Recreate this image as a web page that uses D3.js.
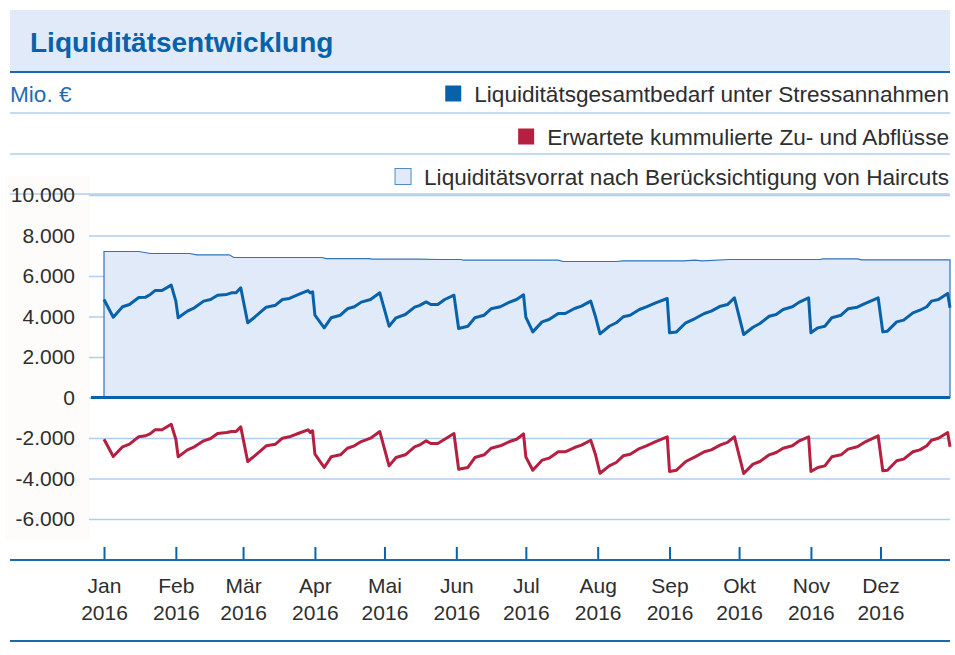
<!DOCTYPE html>
<html>
<head>
<meta charset="utf-8">
<script src="https://cdn.jsdelivr.net/npm/d3@7"></script>
<style>
  body { margin: 0; background: #fff; }
  svg { display: block; font-family: "Liberation Sans", Arial, sans-serif; }
</style>
</head>
<body>
<svg id="chart" width="955" height="655"></svg>
<script>
const title = "Liquiditätsentwicklung"
const unitLabel = "Mio. €"
const monthLabels = ["Jan", "Feb", "Mär", "Apr", "Mai", "Jun", "Jul", "Aug", "Sep", "Okt", "Nov", "Dez"]
const yearLabel = "2016"
const yTicks = [10000, 8000, 6000, 4000, 2000, 0, -2000, -4000, -6000]

const legendLabels = [
  "Liquiditätsgesamtbedarf unter Stressannahmen",
  "Erwartete kummulierte Zu- und Abflüsse",
  "Liquiditätsvorrat nach Berücksichtigung von Haircuts"
]

const lineDates = [
  "2016-01-01","2016-01-05","2016-01-09","2016-01-12","2016-01-16","2016-01-19","2016-01-21","2016-01-23","2016-01-26","2016-01-30",
  "2016-02-01","2016-02-02","2016-02-06","2016-02-09","2016-02-13","2016-02-16","2016-02-19","2016-02-23","2016-02-25","2016-02-27","2016-02-29",
  "2016-03-03","2016-03-06","2016-03-11","2016-03-15","2016-03-18","2016-03-21","2016-03-25","2016-03-29","2016-03-30","2016-03-31",
  "2016-04-01","2016-04-05","2016-04-08","2016-04-12","2016-04-15","2016-04-18","2016-04-21","2016-04-25","2016-04-29",
  "2016-05-03","2016-05-06","2016-05-10","2016-05-14","2016-05-16","2016-05-19","2016-05-21","2016-05-24","2016-05-27","2016-05-31",
  "2016-06-02","2016-06-06","2016-06-09","2016-06-13","2016-06-16","2016-06-20","2016-06-24","2016-06-27","2016-06-30",
  "2016-07-01","2016-07-04","2016-07-08","2016-07-11","2016-07-15","2016-07-18","2016-07-22","2016-07-25","2016-07-29","2016-07-31",
  "2016-08-02","2016-08-06","2016-08-09","2016-08-12","2016-08-15","2016-08-19","2016-08-22","2016-08-26","2016-08-31",
  "2016-09-01","2016-09-04","2016-09-08","2016-09-12","2016-09-16","2016-09-19","2016-09-23","2016-09-26","2016-09-29",
  "2016-10-03","2016-10-07","2016-10-10","2016-10-14","2016-10-17","2016-10-20","2016-10-24","2016-10-27","2016-10-31",
  "2016-11-01","2016-11-04","2016-11-07","2016-11-10","2016-11-14","2016-11-17","2016-11-21","2016-11-24","2016-11-30",
  "2016-12-02","2016-12-04","2016-12-08","2016-12-11","2016-12-15","2016-12-18","2016-12-21","2016-12-23","2016-12-26","2016-12-30","2016-12-31"
]

// Liquiditätsgesamtbedarf unter Stressannahmen
const demandValues = [
  4840,3965,4480,4590,4940,4955,5090,5280,5280,5550,
  4760,3935,4265,4430,4760,4840,5050,5090,5170,5170,5420,
  3690,3965,4460,4560,4840,4890,5090,5280,5170,5220,
  4065,3440,3935,4065,4380,4480,4710,4840,5170,
  3520,3935,4100,4460,4540,4720,4590,4590,4840,5050,
  3410,3520,3935,4065,4380,4480,4710,4840,5070,
  3965,3240,3735,3850,4150,4150,4395,4510,4760,4015,
  3145,3520,3690,3985,4065,4345,4480,4675,4890,
  3195,3240,3690,3900,4150,4265,4510,4590,4925,
  3110,3470,3655,4015,4100,4345,4480,4710,4925,
  3195,3440,3520,3935,4065,4380,4460,4625,4925,
  3240,3275,3735,3820,4180,4310,4480,4760,4840,5140,4430
]

// Erwartete kummulierte Zu- und Abflüsse
const flowValues = [
  -2060,-2915,-2435,-2305,-1940,-1890,-1780,-1595,-1595,-1320,
  -2060,-2930,-2585,-2435,-2140,-2025,-1780,-1730,-1680,-1680,-1450,
  -3160,-2880,-2385,-2305,-2010,-1940,-1765,-1595,-1730,-1645,
  -2800,-3455,-2930,-2830,-2505,-2385,-2175,-2010,-1680,
  -3375,-2965,-2830,-2435,-2355,-2140,-2270,-2270,-2060,-1780,
  -3540,-3455,-2965,-2830,-2505,-2385,-2175,-2060,-1800,
  -2930,-3590,-3095,-2995,-2680,-2680,-2470,-2355,-2110,-2800,
  -3740,-3375,-3210,-2880,-2800,-2520,-2385,-2175,-1940,
  -3655,-3590,-3160,-2930,-2680,-2585,-2340,-2220,-1940,
  -3755,-3290,-3160,-2830,-2715,-2505,-2385,-2140,-1940,
  -3655,-3455,-3375,-2930,-2830,-2550,-2435,-2220,-1890,
  -3620,-3590,-3125,-3045,-2680,-2585,-2385,-2110,-2010,-1730,-2435
]

// Liquiditätsvorrat nach Berücksichtigung von Haircuts
const reserveDates = [
  "2016-01-01","2016-01-16","2016-01-21","2016-02-07","2016-02-10","2016-02-24","2016-02-26",
  "2016-04-04","2016-04-06","2016-04-24","2016-04-26","2016-05-16","2016-05-24","2016-06-03",
  "2016-06-04","2016-07-15","2016-07-17","2016-08-09","2016-08-12","2016-09-07","2016-09-12",
  "2016-09-15","2016-09-27","2016-11-05","2016-11-06","2016-11-21","2016-11-23","2016-12-31"
]
const reserveValues = [
  7210,7210,7110,7110,7045,7045,6914,
  6914,6856,6856,6830,6830,6815,6815,
  6780,6780,6716,6716,6750,6750,6780,
  6750,6815,6815,6845,6845,6800,6800
]

const blue = "#0862aa"
const red = "#b51f40"
const paleBlue = "#e0eaf8"
const gridBlue = "#b0cdef"
const textGrey = "#2e2e2e"

const parse = d3.timeParse("%Y-%m-%d")
const de = d3.formatLocale({decimal: ",", thousands: ".", grouping: [3], currency: ["", " €"], minus: "-"})
const fmt = de.format(",")

const svg = d3.select("#chart")
const left = 89, right = 950

const x = d3.scaleTime()
  .domain([parse("2016-01-01"), parse("2016-12-31")])
  .range([104, 950])
const y = d3.scaleLinear()
  .domain([-6000, 10000])
  .range([519, 195])

const lineData = lineDates.map((d, i) => ({date: parse(d), demand: demandValues[i], flow: flowValues[i]}))
const reserveData = reserveDates.map((d, i) => ({date: parse(d), value: reserveValues[i]}))

// header
svg.append("rect")
  .attr("x", 10).attr("y", 10)
  .attr("width", 940).attr("height", 62)
  .attr("fill", paleBlue)
svg.append("text")
  .attr("x", 30).attr("y", 52)
  .attr("font-size", 28).attr("font-weight", "bold")
  .attr("fill", blue)
  .text(title)

svg.append("rect")
  .attr("x", 5).attr("y", 176)
  .attr("width", 85).attr("height", 364)
  .attr("fill", "#fdfcfa")

// legend rows
svg.selectAll("line.row")
  .data([113, 154, 194])
  .enter().append("line")
    .attr("class", "row")
    .attr("x1", 10).attr("x2", right)
    .attr("y1", d => d).attr("y2", d => d)
    .attr("stroke", gridBlue)
    .attr("stroke-width", 1.5)
svg.append("line")
  .attr("x1", 10).attr("x2", right)
  .attr("y1", 72).attr("y2", 72)
  .attr("stroke", "#1a68b0")
  .attr("stroke-width", 2)

svg.append("text")
  .attr("x", 10).attr("y", 102)
  .attr("font-size", 22.6)
  .attr("fill", "#1f6db5")
  .text(unitLabel)

const legendStyles = [
  {fill: blue, stroke: "none", baseline: 102},
  {fill: red, stroke: "none", baseline: 145},
  {fill: paleBlue, stroke: "#4f8bc8", baseline: 185}
]
legendLabels.forEach((label, i) => {
  const s = legendStyles[i]
  const t = svg.append("text")
    .attr("x", 949).attr("y", s.baseline)
    .attr("text-anchor", "end")
    .attr("font-size", 22.6)
    .attr("fill", textGrey)
    .text(label)
  const bb = t.node().getBBox()
  svg.append("rect")
    .attr("x", bb.x - 29).attr("y", s.baseline - 16.5)
    .attr("width", 16).attr("height", 16)
    .attr("fill", s.fill)
    .attr("stroke", s.stroke)
})

// y grid + labels
const yAxis = svg.append("g")
  .attr("transform", `translate(${left},0)`)
  .call(d3.axisLeft(y).tickValues(yTicks).tickSize(-(right - left)).tickPadding(14).tickFormat(fmt))
yAxis.select(".domain").remove()
yAxis.selectAll(".tick line")
  .attr("stroke", gridBlue)
  .attr("stroke-width", 1.5)
yAxis.selectAll(".tick text")
  .attr("font-size", 21)
  .attr("font-family", "Liberation Sans, Arial, sans-serif")
  .attr("fill", textGrey)

// reserve area
const area = d3.area()
  .x(d => x(d.date))
  .y0(y(0))
  .y1(d => y(d.value))
svg.append("path")
  .datum(reserveData)
  .attr("d", area)
  .attr("fill", paleBlue)
  .attr("stroke", "#2d74bb")
  .attr("stroke-width", 1.2)

svg.append("line")
  .attr("x1", 91).attr("x2", right)
  .attr("y1", y(0)).attr("y2", y(0))
  .attr("stroke", blue)
  .attr("stroke-width", 3)

const line = key => d3.line()
  .x(d => x(d.date))
  .y(d => y(d[key]))

svg.append("path")
  .datum(lineData)
  .attr("d", line("demand"))
  .attr("fill", "none")
  .attr("stroke", blue)
  .attr("stroke-width", 3)
  .attr("stroke-linejoin", "round")

svg.append("path")
  .datum(lineData)
  .attr("d", line("flow"))
  .attr("fill", "none")
  .attr("stroke", red)
  .attr("stroke-width", 3)
  .attr("stroke-linejoin", "round")

// x axis
const months = d3.timeMonth.range(parse("2016-01-01"), parse("2016-12-02"))
const xAxis = svg.append("g")
  .attr("transform", "translate(0,560)")
  .call(d3.axisBottom(x).tickValues(months).tickSize(-13).tickFormat(""))
xAxis.select(".domain").remove()
xAxis.selectAll(".tick line")
  .attr("stroke", blue)
  .attr("stroke-width", 2)
xAxis.selectAll(".tick").each(function(d, i) {
  const t = d3.select(this).append("text")
    .attr("fill", textGrey)
    .attr("font-size", 21)
    .attr("font-family", "Liberation Sans, Arial, sans-serif")
    .attr("text-anchor", "middle")
  t.append("tspan").attr("x", 0).attr("y", 33).text(monthLabels[d.getMonth()])
  t.append("tspan").attr("x", 0).attr("y", 60).text(yearLabel)
})

svg.selectAll("line.frame")
  .data([560, 641])
  .enter().append("line")
    .attr("class", "frame")
    .attr("x1", 10).attr("x2", right)
    .attr("y1", d => d).attr("y2", d => d)
    .attr("stroke", "#1a68b0")
    .attr("stroke-width", 2)
</script>
</body>
</html>
